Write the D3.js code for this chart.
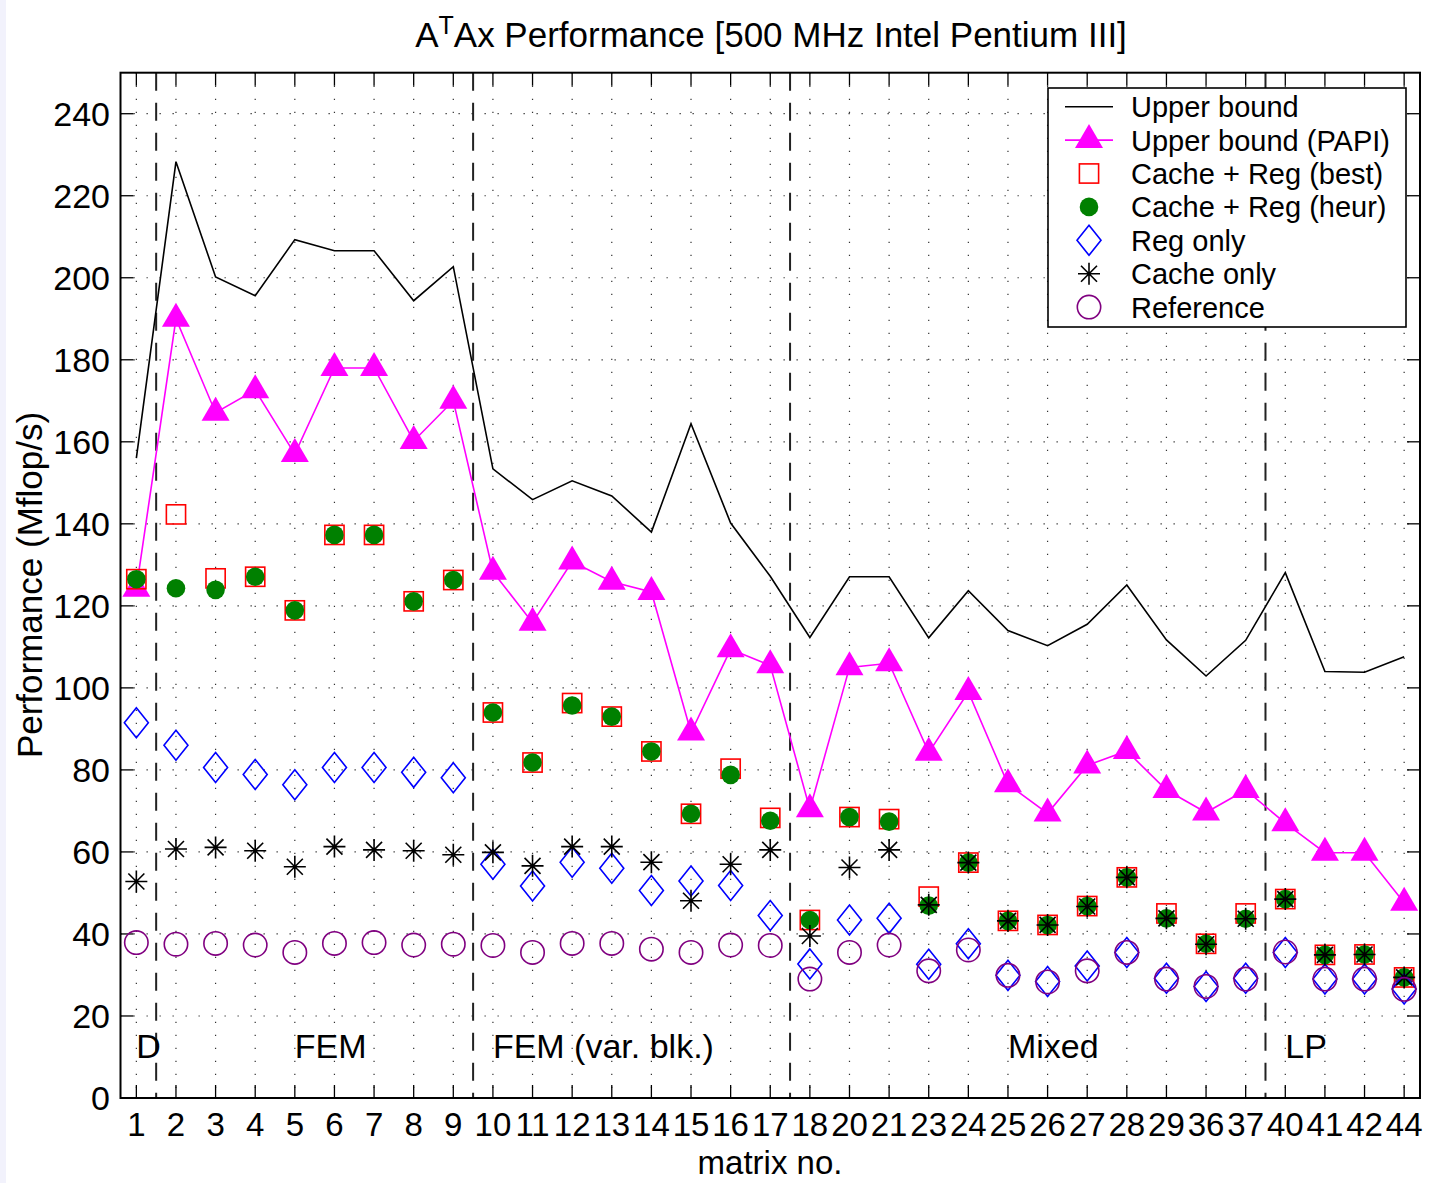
<!DOCTYPE html>
<html>
<head>
<meta charset="utf-8">
<script src="https://cdn.jsdelivr.net/npm/d3@7"></script>
<style>
  html, body { margin: 0; padding: 0; background: #fff; }
  svg { display: block; font-family: "Liberation Sans", Arial, Helvetica, sans-serif; }
</style>
</head>
<body>
<svg id="chart" width="1429" height="1183"></svg>
<script>
// Matrix identifiers along the x axis
const matrices = ["1","2","3","4","5","6","7","8","9","10","11","12","13","14","15","16","17",
  "18","20","21","23","24","25","26","27","28","29","36","37","40","41","42","44"];

// Performance in Mflop/s for each matrix
const upperBound = [156, 228.3, 200.2, 195.6, 209.3, 206.6, 206.6, 194.4, 202.7, 153.4, 145.9, 150.5, 146.8, 138, 164.4, 140.2, 127.2,
  112.3, 127.1, 127.1, 112.2, 123.7, 114.0, 110.3, 115.5, 125.1, 111.7, 102.9, 111.6, 128.1, 104.0, 103.8, 107.6];
const upperBoundPapi = [124.2, 190.0, 167.1, 172.6, 157.0, 178.0, 178.0, 160.2, 170.0, 128.3, 115.9, 130.8, 125.9, 123.4, 89.1, 109.4, 105.5,
  70.4, 105.0, 106.0, 84.2, 99.0, 76.5, 69.4, 81.1, 84.6, 75.1, 69.6, 75.1, 67.0, 59.8, 59.8, 47.6];
const cacheRegBest = [126.5, 142.3, 126.7, 127.1, 118.9, 137.3, 137.3, 121.1, 126.3, 94.0, 81.8, 96.3, 93.0, 84.5, 69.3, 80.3, 68.3,
  43.4, 68.5, 68.0, 49.1, 57.4, 43.2, 42.2, 46.8, 53.8, 45.0, 37.6, 45.0, 48.5, 34.9, 35.0, 29.4];
const cacheRegHeur = [126.5, 124.3, 123.9, 127.1, 118.9, 137.3, 137.3, 121.1, 126.3, 94.0, 81.8, 95.7, 93.0, 84.5, 69.3, 78.8, 67.6,
  43.4, 68.5, 67.4, 46.9, 57.4, 43.2, 42.2, 46.8, 53.8, 43.8, 37.6, 43.7, 48.5, 34.9, 35.0, 29.4];
const regOnly = [91.5, 86.0, 80.6, 78.9, 76.4, 80.6, 80.6, 79.4, 78.1, 57.0, 51.7, 57.5, 56.0, 50.6, 52.9, 51.8, 44.5,
  32.7, 43.4, 43.8, 32.6, 37.6, 29.9, 28.4, 32.2, 35.5, 29.2, 27.2, 29.2, 35.5, 29.0, 29.0, 26.6];
const cacheOnly = [52.8, 60.7, 61.1, 60.3, 56.4, 61.3, 60.5, 60.3, 59.3, 59.9, 56.6, 61.3, 61.3, 57.5, 48.1, 57.0, 60.5,
  39.5, 56.2, 60.5, 47.1, 57.4, 43.2, 42.2, 46.7, 53.8, 43.8, 37.5, 43.7, 48.5, 34.9, 35.0, 29.4];
const reference = [37.9, 37.5, 37.7, 37.3, 35.5, 37.7, 37.9, 37.3, 37.5, 37.2, 35.5, 37.7, 37.7, 36.3, 35.5, 37.3, 37.2,
  29.0, 35.5, 37.3, 31.0, 36.1, 29.9, 28.3, 31.0, 35.5, 29.0, 27.2, 29.0, 35.6, 29.0, 29.0, 26.5];

// Matrix groups: label, first matrix of the group
const groups = [["D","1"],["FEM","5"],["FEM (var. blk.)","10"],["Mixed","25"],["LP","40"]];
// Group boundaries fall between these neighbouring matrices
const boundaries = [["1","2"],["9","10"],["17","18"],["37","40"]];

const yTicks = [0,20,40,60,80,100,120,140,160,180,200,220,240];

const legendItems = ["Upper bound","Upper bound (PAPI)","Cache + Reg (best)","Cache + Reg (heur)","Reg only","Cache only","Reference"];

const svg = d3.select("#chart");
const L = 120.5, R = 1420, T = 72.7, B = 1098;

svg.append("rect").attr("x",0).attr("y",0).attr("width",6).attr("height",1183).attr("fill","#f2f2fc");

const x = d3.scalePoint().domain(matrices).range([L, R]).padding(0.4);
const y = d3.scaleLinear().domain([0, 250]).range([B, T]);

const g = svg.append("g");

// dotted grid
g.selectAll("line.vgrid").data(matrices).join("line")
  .attr("x1", d => x(d)).attr("x2", d => x(d)).attr("y1", T).attr("y2", B)
  .attr("stroke", "#333").attr("stroke-width", 1.2).attr("stroke-dasharray", "1.3,11.7");
g.selectAll("line.hgrid").data(yTicks.filter(v => v > 0)).join("line")
  .attr("x1", L).attr("x2", R).attr("y1", d => y(d)).attr("y2", d => y(d))
  .attr("stroke", "#333").attr("stroke-width", 1.2).attr("stroke-dasharray", "1.3,11.7");

// group separators
g.selectAll("line.sep").data(boundaries).join("line")
  .attr("x1", d => (x(d[0]) + x(d[1])) / 2).attr("x2", d => (x(d[0]) + x(d[1])) / 2)
  .attr("y1", T).attr("y2", B)
  .attr("stroke", "#222").attr("stroke-width", 2).attr("stroke-dasharray", "18,12");

// tick marks (inward, on all four sides)
const tickLen = 13;
matrices.forEach(m => {
  g.append("line").attr("x1", x(m)).attr("x2", x(m)).attr("y1", B).attr("y2", B - tickLen).attr("stroke","#000").attr("stroke-width",1.3);
  g.append("line").attr("x1", x(m)).attr("x2", x(m)).attr("y1", T).attr("y2", T + tickLen).attr("stroke","#000").attr("stroke-width",1.3);
});
yTicks.forEach(v => {
  g.append("line").attr("x1", L).attr("x2", L + tickLen).attr("y1", y(v)).attr("y2", y(v)).attr("stroke","#000").attr("stroke-width",1.3);
  g.append("line").attr("x1", R).attr("x2", R - tickLen).attr("y1", y(v)).attr("y2", y(v)).attr("stroke","#000").attr("stroke-width",1.3);
});

// tick labels
g.selectAll("text.xt").data(matrices).join("text")
  .attr("x", d => x(d)).attr("y", 1136).attr("text-anchor","middle")
  .attr("font-size", 33).attr("fill","#000").text(d => d);
g.selectAll("text.yt").data(yTicks).join("text")
  .attr("x", 110).attr("y", d => y(d) + 12).attr("text-anchor","end")
  .attr("font-size", 34).attr("fill","#000").text(d => d);

// group labels
g.selectAll("text.grp").data(groups).join("text")
  .attr("x", d => x(d[1])).attr("y", 1058).attr("font-size", 34).attr("fill","#000").text(d => d[0]);

// marker shapes
const triPath = "M0,-16L14,8L-14,8Z";
function drawSquare(sel, cx, cy) {
  sel.append("rect").attr("x", cx - 9.6).attr("y", cy - 9.6).attr("width", 19.2).attr("height", 19.2)
    .attr("fill","none").attr("stroke","#ff0000").attr("stroke-width",1.6);
}
function drawDot(sel, cx, cy) {
  sel.append("circle").attr("cx", cx).attr("cy", cy).attr("r", 9.3).attr("fill","#008000");
}
function drawDiamond(sel, cx, cy) {
  sel.append("path").attr("d", `M${cx},${cy-15}L${cx+12},${cy}L${cx},${cy+15}L${cx-12},${cy}Z`)
    .attr("fill","none").attr("stroke","#0000ff").attr("stroke-width",1.6);
}
function drawStar(sel, cx, cy) {
  const a = 11, b = 8;
  const p = `M${cx-a},${cy}L${cx+a},${cy}M${cx},${cy-a}L${cx},${cy+a}M${cx-b},${cy-b}L${cx+b},${cy+b}M${cx-b},${cy+b}L${cx+b},${cy-b}`;
  sel.append("path").attr("d", p).attr("fill","none").attr("stroke","#000").attr("stroke-width",1.6);
}
function drawRing(sel, cx, cy) {
  sel.append("circle").attr("cx", cx).attr("cy", cy).attr("r", 11.7)
    .attr("fill","none").attr("stroke","#800080").attr("stroke-width",1.6);
}
function drawTri(sel, cx, cy) {
  sel.append("path").attr("d", triPath).attr("transform", `translate(${cx},${cy})`).attr("fill","#ff00ff");
}

// series
const line = d3.line().x((d, i) => x(matrices[i])).y(d => y(d));
g.append("path").datum(upperBound).attr("d", line).attr("fill","none").attr("stroke","#000").attr("stroke-width",1.6);
g.append("path").datum(upperBoundPapi).attr("d", line).attr("fill","none").attr("stroke","#ff00ff").attr("stroke-width",1.6);

const marks = g.append("g");
upperBoundPapi.forEach((v, i) => drawTri(marks, x(matrices[i]), y(v)));
cacheRegBest.forEach((v, i) => drawSquare(marks, x(matrices[i]), y(v)));
cacheRegHeur.forEach((v, i) => drawDot(marks, x(matrices[i]), y(v)));
regOnly.forEach((v, i) => drawDiamond(marks, x(matrices[i]), y(v)));
cacheOnly.forEach((v, i) => drawStar(marks, x(matrices[i]), y(v)));
reference.forEach((v, i) => drawRing(marks, x(matrices[i]), y(v)));

// plot frame
g.append("rect").attr("x", L).attr("y", T).attr("width", R - L).attr("height", B - T)
  .attr("fill","none").attr("stroke","#000").attr("stroke-width",2);

// legend
const lg = svg.append("g");
lg.append("rect").attr("x",1048).attr("y",88).attr("width",358).attr("height",239)
  .attr("fill","#fff").attr("stroke","#000").attr("stroke-width",1.6);
const rowY = i => 106.7 + i * 33.4;
const mx = 1089;
lg.append("line").attr("x1",1065).attr("x2",1113).attr("y1",rowY(0)).attr("y2",rowY(0)).attr("stroke","#000").attr("stroke-width",1.6);
lg.append("line").attr("x1",1065).attr("x2",1113).attr("y1",rowY(1)).attr("y2",rowY(1)).attr("stroke","#ff00ff").attr("stroke-width",1.6);
drawTri(lg, mx, rowY(1));
drawSquare(lg, mx, rowY(2));
drawDot(lg, mx, rowY(3));
drawDiamond(lg, mx, rowY(4));
drawStar(lg, mx, rowY(5));
drawRing(lg, mx, rowY(6));
lg.selectAll("text").data(legendItems).join("text")
  .attr("x", 1131).attr("y", (d, i) => rowY(i) + 10.5).attr("font-size", 29).attr("fill","#000").text(d => d);

// titles
const title = svg.append("text").attr("x", 771).attr("y", 47).attr("text-anchor","middle").attr("font-size", 35).attr("fill","#000");
title.append("tspan").text("A");
title.append("tspan").attr("dy", -13).attr("font-size", 25).text("T");
title.append("tspan").attr("dy", 13).text("Ax Performance [500 MHz Intel Pentium III]");

svg.append("text").attr("x", 770).attr("y", 1174).attr("text-anchor","middle").attr("font-size", 33).attr("fill","#000").text("matrix no.");
svg.append("text").attr("transform","translate(42,585) rotate(-90)").attr("text-anchor","middle")
  .attr("font-size", 35).attr("fill","#000").text("Performance (Mflop/s)");
</script>
</body>
</html>
